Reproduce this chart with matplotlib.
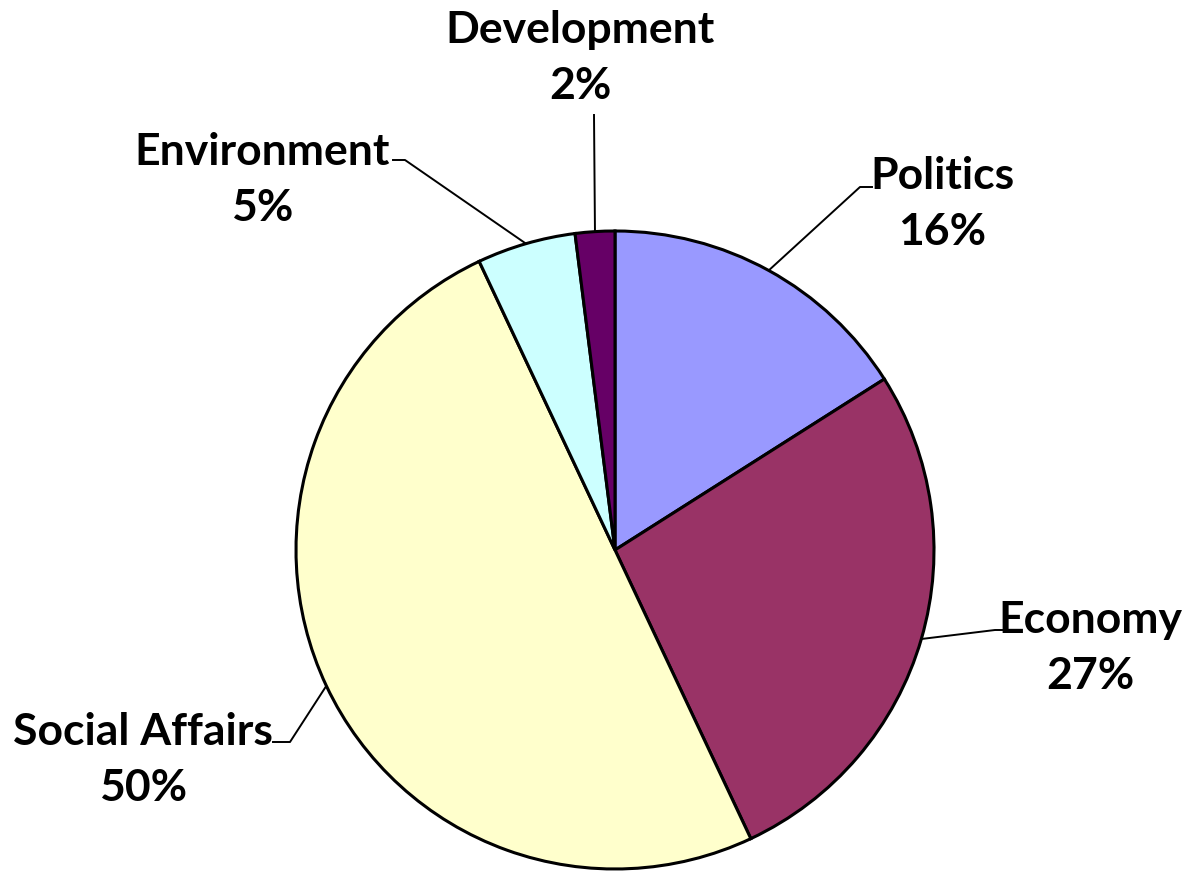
import numpy as np
import matplotlib.pyplot as plt

# data
categories = ["Politics", "Economy", "Social Affairs", "Environment", "Development"]
shares = [16, 27, 50, 5, 2]
colors = ["#9999FF", "#993366", "#FFFFCC", "#CCFFFF", "#660066"]

W, H = 1188, 872
fig = plt.figure(figsize=(W / 100, H / 100), dpi=100)
ax = fig.add_axes([0, 0, 1, 1])
ax.set_xlim(0, W)
ax.set_ylim(0, H)
ax.set_aspect("equal")
ax.axis("off")

cx, cy, r = 615, H - 550, 319
wedges, _ = ax.pie(shares, colors=colors, startangle=90, counterclock=False,
                   center=(cx, cy), radius=r,
                   wedgeprops=dict(edgecolor="black", linewidth=2.2))
ax.set_xlim(0, W)
ax.set_ylim(0, H)

# label layout: text centre, elbow point, end of short horizontal
label_pos = {
    "Politics": ((942, H - 204), (860, H - 187), (872, H - 187)),
    "Economy": ((1090, H - 648), (995, H - 630), (1002, H - 630)),
    "Social Affairs": ((143, H - 760), (290, H - 742), (273, H - 742)),
    "Environment": ((262, H - 180), (405, H - 160), (393, H - 160)),
    "Development": ((580, H - 58), (594, H - 115), (594, H - 115)),
}

font = dict(family=["Lato", "DejaVu Sans"], fontweight="bold", fontsize=32)
for w, name, val in zip(wedges, categories, shares):
    ang = np.deg2rad((w.theta1 + w.theta2) / 2)
    x0 = cx + r * np.cos(ang)
    y0 = cy + r * np.sin(ang)
    (tx, ty), (ex, ey), (hx, hy) = label_pos[name]
    ax.plot([x0, ex, hx], [y0, ey, hy], color="black", lw=1.4, zorder=0)
    ax.text(tx, ty, f"{name}\n{val}%", ha="center", va="center",
            linespacing=1.5, **font)

fig.savefig("out.png", dpi=100)
